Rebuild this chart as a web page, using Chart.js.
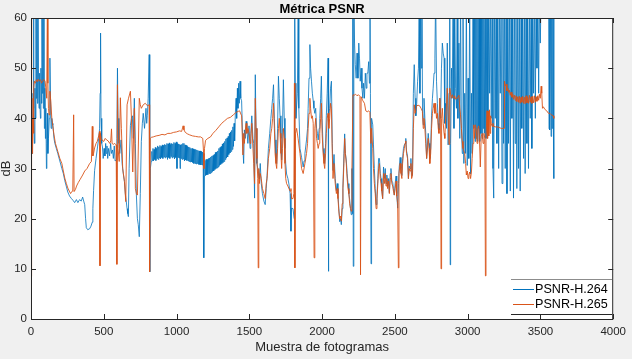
<!DOCTYPE html>
<html>
<head>
<meta charset="utf-8">
<script src="https://cdn.jsdelivr.net/npm/chart.js@4"></script>
<style>
  html, body { margin: 0; padding: 0; background: #f0f0f0; }
  canvas { display: block; }
</style>
</head>
<body>
<canvas id="psnr-chart" width="632" height="359"></canvas>
<script>
// PSNR per frame: [frame, dB]
// (65 = above the 60 dB axis limit, clipped like in the original)
const h264 = [
  [0,40],[3,33],[7,36],[10,33],[14,45],[17,65],[20,42],[24,35],[27,46],[31,40],[34,65],[37,44],[41,65],[44,43],[48,65],[51,50],
  [55,42],[58,49],[61,44],[65,40],[68,50],[72,43],[75,65],[78,45],[82,65],[85,42],[89,65],[92,38],[96,46],[99,36],[102,42],
  [106,30],[109,35],[113,41],[116,33],[120,36],[126,40],[130,52],[134,44],[138,38],[143,40],[147,39],[150,38.7],
  [158,36],[164,35],[174,34],[184,33],[198,31.5],[212,30],[222,29],[232,27.6],[242,26.5],[253,25.3],[265,24.5],[278,24],
  [290,23.6],[300,23.2],[312,23.8],[322,23.2],[334,23.8],[345,23.5],[355,24.3],[362,23.5],[369,22.8],[375,20],[380,18.2],
  [390,17.8],[403,18],[412,18.5],[421,19.3],[425,22],[430,25.6],[437,29.6],[447,32],[457,34.3],[465,36],[471,37.9],[475,45],
  [478,57],[481,40],[486,35],[491,34.3],[496,32],[502,34],[508,32.5],[513,35],[517,33],[522,34.5],[527,32],[533,34],[540,32.5],
  [547,35],[553,33],[560,33.7],[566,32],[572,34.5],[578,31.5],[585,31.7],[590,36],[594,50],[598,40],[604,35],[610,33],
  [619,35.7],[626,31],[634,29],[642,27.4],[648,25],[653,23.8],[660,22],[665,21],[669,20.4],[674,30],[683,38.6],[690,40],
  [696,40.5],[703,36],[710,44],[717,35],[724,24.7],[731,20],[737,18.8],[744,16.4],[751,25],[758,35.4],[765,39],[771,41],
  [780,38],[790,42],[795,39],[799,40.5],[805,44],[812,52.7],[815,45],[817,9.4],[820,30],
  [826,31.4],[830,33.4],[834,31.6],[838,34],[842,31.5],[846,33.8],[850,31.8],[854,34.2],[858,31.6],[862,34],[866,32],
  [870,34.5],[874,31.8],[878,34.3],[882,32.1],[886,34.6],[890,31.9],[894,34.4],[898,32.2],[902,34.7],[906,32],[910,34.6],
  [914,32.3],[918,34.8],[922,32.1],[926,34.7],[930,32.3],[934,35],[938,31.8],[942,34.9],[946,32.2],[950,35.1],[954,32],
  [958,34.8],[962,32.4],[966,35],[970,32.1],[974,34.9],[978,32.3],[982,35.2],[986,31.9],[990,35],[994,32.2],[998,35.3],
  [1003,30],[1006,35],[1010,32.2],[1014,34.9],[1018,32.1],[1022,34.8],[1024,30],[1027,34.7],[1031,32],[1035,34.8],
  [1039,31.8],[1043,35],[1047,31.9],[1051,35],[1055,31.5],[1059,34.7],[1063,31.7],[1067,34.6],[1071,31.6],[1075,34.4],
  [1079,31.5],[1083,34.3],[1087,31.4],[1091,34.2],[1095,31.3],[1099,34],[1103,31.3],[1107,34],[1111,31.2],[1115,33.9],
  [1119,31],[1123,33.8],[1127,31],[1131,33.8],[1135,30.9],[1139,33.7],[1143,31],[1147,33.6],[1151,30.8],[1155,33.5],
  [1159,30.8],[1163,33.5],[1167,30.7],[1171,33.4],[1175,30.7],[1179,33.3],[1183,30.6],[1186,33],
  [1188,12.2],[1191,28.5],
  [1195,31.6],[1199,28.6],[1203,31.8],[1207,28.7],[1211,31.8],[1215,28.8],[1219,32],[1223,29],[1227,32.1],[1231,29],
  [1235,32.3],[1239,29.2],[1243,32.5],[1247,29.4],[1251,32.6],[1255,29.5],[1259,32.8],[1263,29.8],[1267,33.2],[1271,30],
  [1275,33.3],[1279,30.1],[1283,33.5],[1287,30.3],[1291,34],[1295,30.6],[1299,34.2],[1303,30.8],[1307,34.4],[1311,31],
  [1315,34.9],[1319,31.2],[1323,35.1],[1327,31.4],[1331,35.4],[1335,31.8],[1339,35.9],[1343,32.1],[1347,36.1],[1351,32.3],
  [1355,36.4],[1359,32.8],[1363,37],[1367,33.1],[1371,37.3],[1375,33.4],[1379,37.6],[1383,33.8],[1387,38.3],[1391,34.4],
  [1395,39],[1399,35.5],[1404,41],[1409,44],[1413,40],[1418,46],[1422,42],[1427,47],[1431,43],[1436,47.4],[1441,44],
  [1447,43.5],[1456,34],[1461,31],[1466,37.7],[1472,36],[1478,39.4],[1483,38],[1490,35],[1498,38.5],[1505,34],[1510,37],
  [1517,40.5],[1525,36],[1530,35],[1536,24.1],[1541,48.7],[1546,38],[1552,31],[1558,30],[1563,29],[1569,27.9],[1575,31],
  [1582,27],[1590,25],[1600,23.5],[1609,22.8],[1616,26],[1622,28.6],[1631,34],[1640,37],[1648,40],[1654,42],[1660,44],
  [1666,46.7],[1672,40],[1677,35.7],[1683,32],[1688,31],[1694,38],[1700,48.4],[1706,44],[1711,40.5],[1717,36],[1722,31.7],
  [1728,38],[1734,47.7],[1740,40],[1745,34],[1750,31],[1756,28.9],[1765,28],[1772,26.9],[1780,25],[1786,17.5],[1790,22.1],
  [1800,22],[1808,20],[1810,21],[1813,65],[1816,47],[1820,40],[1830,45],[1836,65],[1840,42],[1848,34],[1859,32.2],
  [1870,30.3],[1876,31.5],[1882,33],[1893,35.7],[1900,38],[1904,42],[1910,48],[1916,54.7],[1921,50],[1927,47.4],[1933,45],
  [1939,43.5],[1944,42],[1950,41],[1956,42],[1962,38],[1968,37],[1973,35.7],[1980,38],[1984,40],[1990,44],[1995,48.4],
  [2000,40],[2007,34],[2013,32],[2018,31],[2024,35],[2029,40.5],[2035,45],[2041,52],[2043,9.5],[2046,40.5],[2052,42],
  [2058,46],[2064,47.4],[2070,35],[2075,29.6],[2082,32.8],[2090,28],[2098,25.6],[2104,27],[2109,25],[2115,22],[2121,19.4],
  [2127,20],[2132,18.8],[2138,22],[2143,26.2],[2150,33],[2155,36.9],[2160,33],[2166,31.7],[2172,29],[2178,27],[2184,25],
  [2189,23.9],[2195,22],[2200,20.8],[2205,30],[2208,21],[2211,65],[2214,10.5],[2218,65],[2223,55],[2228,50.7],[2234,48],
  [2240,53],[2246,48],[2252,55],[2257,52],[2262,47.4],[2268,50],[2274,46],[2280,44],[2285,47],[2291,44],[2297,49],[2303,46],
  [2308,49],[2314,49],[2320,51.3],[2325,47],[2329,65],[2332,45],[2336,11],[2340,40],[2348,38.7],[2353,34.7],[2359,30],
  [2365,26],[2371,22.8],[2377,24.7],[2383,28],[2388,32],[2394,32],[2400,29],[2405,28],[2410,26],[2416,24],[2422,30.3],
  [2428,28],[2434,30],[2439,27],[2445,28.7],[2450,26.5],[2456,28],[2462,25.2],[2468,29],[2473,30],[2479,27.5],[2485,27.2],
  [2490,26],[2496,24.7],[2502,27],[2508,28.5],[2513,25],[2519,22.1],[2525,27],[2530,30.3],[2536,32.2],[2542,30],[2548,28.6],
  [2553,32],[2559,34],[2565,34.7],[2570,35],[2575,36],[2580,33.5],[2587,32.5],[2593,28],[2598,30.5],[2604,30],[2610,32],
  [2615,28.6],[2621,28.6],[2627,45],[2633,50.7],[2639,44],[2644,40.5],[2650,43],[2656,47.4],[2662,50],[2667,65],[2672,45],
  [2677,65],[2682,50],[2686,65],[2690,41],[2695,38.7],[2700,44],[2706,40],[2712,37.1],[2718,32],[2723,34.5],[2729,37],
  [2735,35],[2740,32],[2746,34],[2752,40.5],[2758,44],[2763,46],[2769,49],[2775,52],[2780,65],[2786,47.4],[2792,43],
  [2798,39],[2803,37.7],[2809,44],[2814,40],[2820,50],[2826,55],[2832,53],[2838,52],[2843,39],[2849,43],[2855,38],
  [2860,55],[2866,34.7],[2872,45],[2877,65],[2880,10.8],[2883,35],[2889,50],[2894,44],[2900,65],[2906,38],[2911,65],
  [2917,46],[2923,42],[2928,65],[2933,40],[2940,55],[2946,36],[2951,65],[2957,38],[2963,33],[2968,65],[2974,31],[2980,45],
  [2986,33],[2991,65],[2997,30.6],[3003,48],[3008,32],[3014,65],[3020,28.9],[3026,45],[3031,33],[3037,65],[3042,38],
  [3047,65],[3051,35.4],[3055,65],[3059,36],[3063,65],[3067,35.4],[3071,65],[3075,38],[3079,65],[3083,35.4],[3087,65],
  [3091,37],[3095,65],[3099,36],[3103,65],[3107,38],[3111,65],[3115,37],[3120,65],[3126,36],[3133,65],[3139,38],[3145,65],
  [3151,45],[3156,65],[3162,40],[3168,65],[3174,30],[3179,24.1],[3185,65],[3190,40],[3196,65],[3201,35],[3207,65],
  [3213,30],[3218,65],[3224,45],[3230,65],[3236,27],[3242,65],[3247,35],[3253,65],[3258,30],[3264,65],[3270,25],[3276,65],
  [3281,35],[3287,65],[3293,25.5],[3298,65],[3304,40],[3310,65],[3315,24.1],[3321,65],[3327,35],[3332,65],[3338,26],
  [3344,65],[3350,30],[3355,65],[3361,25.5],[3367,65],[3372,38],[3378,65],[3384,32],[3390,65],[3395,29],[3401,65],
  [3407,35],[3412,65],[3418,30],[3424,65],[3430,40],[3436,65],[3441,34],[3447,65],[3453,45],[3459,65],[3465,40],
  [3470,65],[3476,50],[3482,65],[3488,45],[3493,65],[3499,55],[3505,65],[3530,65],[3556,65],[3559,38],[3562,65],
  [3565,37.7],[3569,65],[3573,36.4],[3577,65],[3581,38],[3585,65],[3589,40],[3591,65],[3593,28]
];

const h265 = [
  [0,8.5],[2,60],[4,36],[6,42],[8,33],[10,40],[12,35],[14,44],[17,37],[20,46],[23,47.4],[30,47],[37,47.7],[44,47.3],
  [50,47.8],[58,47.4],[65,47.7],[72,47],[80,47.5],[88,47.7],[96,47.5],[102,46],[108,44],[113,65],[116,47],[120,42],
  [124,40.7],[130,45.4],[136,43.4],[143,40],[150,38.4],[158,36.7],[168,35],[184,33.4],[198,32],[212,31],[222,29.5],
  [232,28.1],[243,27],[253,26.1],[263,25.5],[272,25],[280,25.4],[287,25.5],[293,40.7],[296,25.4],[305,25.8],[313,26.5],
  [325,27.2],[337,27.8],[355,28.7],[369,29.5],[385,30],[403,31],[415,31.4],[421,38.4],[425,32.5],[430,33],[437,34.1],
  [447,35],[455,35.4],[465,36.5],[471,37.4],[474,10.6],[477,37],[482,36],[490,35.6],[500,35.4],[510,36],[519,35.7],
  [530,35.5],[541,35],[548,35.5],[553,37.9],[557,35],[565,34.8],[575,35],[585,34.7],[590,10.9],[594,46.7],[598,34],
  [606,31.4],[614,44.1],[621,38],[630,30],[642,27.4],[651,23.4],[660,42.7],[670,44],[683,45.4],[690,40],[699,29.3],
  [705,37],[710,42],[717,26],[724,25],[731,24.7],[744,44],[751,42.7],[758,42],[771,42.7],[785,43],[800,42.5],[812,42.7],
  [815,9.4],[819,36],[826,36.2],[840,36.3],[860,36.5],[880,36.6],[900,36.8],[920,36.7],[940,37],[960,37],[980,37.2],
  [1000,37.3],[1020,37.5],[1035,37.4],[1045,38.5],[1051,37.7],[1060,37.2],[1075,36.9],[1090,36.7],[1110,36.5],
  [1130,36.4],[1150,36.3],[1165,36.3],[1180,36],[1186,33],[1188,30],[1192,34],[1199,35.6],[1215,36],[1233,36.3],
  [1250,37],[1270,37.6],[1290,38.3],[1310,39],[1330,39.5],[1350,40],[1370,40.2],[1390,40.7],[1410,41.2],[1425,41.4],
  [1433,41.5],[1447,40.5],[1456,32.7],[1461,37],[1466,35],[1472,37.5],[1478,39],[1483,37],[1490,38],[1498,37],[1505,35],
  [1510,36],[1517,39],[1525,34],[1530,31],[1536,27],[1541,44],[1546,38],[1552,32],[1558,28],[1561,10.2],[1565,30],
  [1569,27],[1575,29],[1582,28],[1590,26],[1600,25],[1609,24],[1616,27],[1622,28],[1631,32],[1640,34],[1648,37],
  [1654,38],[1660,40],[1666,43],[1672,38],[1677,33],[1683,31],[1688,30],[1694,34],[1700,38],[1706,40],[1711,37],
  [1717,33],[1722,30],[1728,34],[1734,38],[1740,36],[1745,31],[1750,28],[1756,27],[1765,26.5],[1772,26],[1780,25.5],
  [1786,26],[1790,24],[1800,24],[1806,25],[1810,47],[1813,10.2],[1817,37],[1825,38],[1835,36],[1848,33],[1859,30],
  [1870,29],[1882,31],[1893,33],[1900,35],[1904,38],[1910,41],[1916,44],[1921,42],[1927,40],[1933,40.5],[1939,39],
  [1945,12.2],[1950,38],[1956,40],[1962,36],[1968,35],[1973,34],[1980,35],[1984,37],[1990,40],[1995,43],[2000,37],
  [2007,33],[2013,31],[2018,30],[2024,33],[2029,37],[2035,40],[2041,41],[2046,38],[2052,40],[2058,43],[2064,42],
  [2070,33],[2075,28],[2082,31],[2090,27],[2098,25],[2104,26],[2109,24],[2115,21.5],[2121,20],[2127,20.5],[2132,19.5],
  [2138,23],[2143,26],[2150,31],[2155,36],[2160,33],[2166,31],[2172,28],[2178,26],[2184,25],[2189,23],[2195,22],
  [2200,21.5],[2205,30],[2212,44.7],[2220,44.6],[2230,44.8],[2240,44.5],[2250,44.7],[2260,44.4],[2264,8.8],[2268,44.3],
  [2280,43.5],[2291,43],[2300,41.5],[2310,41.3],[2320,41.5],[2328,41.2],[2335,35],[2340,38],[2348,34],[2353,30],
  [2359,27],[2365,25],[2371,22],[2377,24],[2383,27],[2388,30],[2394,31],[2400,28],[2405,27],[2410,25.5],[2416,24],
  [2422,29],[2428,27],[2434,29],[2439,26.5],[2445,28],[2450,26],[2456,27.5],[2462,25],[2468,28],[2473,29],[2479,27],
  [2485,26.5],[2490,25.5],[2496,24.7],[2502,26],[2508,27.5],[2513,24.5],[2519,23],[2524,10.2],[2528,29],[2536,31],
  [2542,29],[2548,28],[2553,31],[2559,33],[2565,34],[2570,35],[2575,35.5],[2580,33],[2587,32],[2593,28],[2598,30],
  [2604,29.5],[2610,31],[2615,28],[2621,28.6],[2627,38],[2633,42.7],[2639,41],[2650,42.5],[2660,42.6],[2670,42.5],
  [2680,42],[2689,41.4],[2695,38],[2700,40],[2706,38],[2712,35],[2718,32],[2723,33.5],[2729,36],[2735,34],[2740,31],
  [2746,33],[2752,38],[2758,41],[2763,42],[2769,43],[2775,41],[2780,43],[2786,40],[2792,41],[2798,38],[2803,37],
  [2809,44],[2814,41],[2817,10],[2821,40],[2826,42],[2832,39],[2838,37],[2843,36],[2849,40],[2855,43],[2860,46],
  [2866,40.7],[2872,34.8],[2877,46],[2883,44.7],[2889,44],[2894,44.7],[2900,44.2],[2906,44],[2911,44.5],[2917,43.8],
  [2923,44],[2928,44],[2940,44.6],[2946,42],[2951,40.7],[2957,38],[2963,35.4],[2968,34],[2974,33.5],[2980,33],[2986,31],
  [2991,28.7],[2997,29.5],[3003,28],[3008,28.7],[3014,29.3],[3020,28],[3026,29.3],[3031,32],[3037,35],[3042,38.7],
  [3047,36],[3053,38.7],[3059,37.7],[3065,35],[3070,38],[3076,38.5],[3081,36],[3087,30.3],[3093,36.3],[3100,37],
  [3106,35],[3112,37],[3118,36],[3122,8.6],[3126,36],[3133,41.5],[3137,36],[3141,41.4],[3145,36.5],[3150,41.7],
  [3154,37],[3158,40.5],[3162,39],[3168,38.4],[3174,39],[3179,38.4],[3190,38.3],[3201,38.3],[3215,38.2],[3230,38],
  [3243,38],[3251,38],[3253,47.4],[3258,46.5],[3264,46.8],[3270,45.5],[3276,46],[3281,45.2],[3287,45.6],[3293,44.6],
  [3298,45.2],[3304,44.2],[3310,44.8],[3315,43.8],[3321,44.6],[3327,43.6],[3332,44.5],[3338,43.3],[3344,44.3],
  [3350,43.2],[3355,44.4],[3361,43],[3367,44.2],[3372,43.2],[3378,44.4],[3384,43],[3390,44.2],[3395,42.9],[3401,44.5],
  [3407,43.1],[3412,44.2],[3418,43],[3424,44.6],[3430,43.2],[3436,44.3],[3441,43],[3447,44.4],[3453,43.1],[3459,44.5],
  [3465,43.2],[3470,44.3],[3476,43.4],[3482,44.5],[3488,43.6],[3493,44.8],[3499,44],[3505,46.4],[3509,45],[3514,42],
  [3520,42.3],[3530,41.8],[3543,41.5],[3555,41],[3565,41],[3575,40.7],[3588,40.5],[3592,40]
];

const seriesNames = ['PSNR-H.264', 'PSNR-H.265'];
const xTicks = [0, 500, 1000, 1500, 2000, 2500, 3000, 3500, 4000];
const yTicks = [0, 10, 20, 30, 40, 50, 60];

const FONT = "'Liberation Sans', Arial, sans-serif";
const BLUE = '#0072bd';
const ORANGE = '#d95319';
const AXIS = '#262626';

// white plot background
const plotBg = {
  id: 'plotBg',
  beforeDatasetsDraw(chart) {
    const { ctx, chartArea: a } = chart;
    ctx.save();
    ctx.fillStyle = '#fff';
    ctx.fillRect(a.left, a.top, a.right - a.left, a.bottom - a.top);
    ctx.restore();
  }
};

// MATLAB-ish frame: box, inward ticks, title, axis labels, legend
const matlabAxes = {
  id: 'matlabAxes',
  afterDatasetsDraw(chart) {
    const { ctx, chartArea: a, scales } = chart;
    ctx.save();
    ctx.strokeStyle = AXIS;
    ctx.lineWidth = 1;
    ctx.beginPath();
    ctx.rect(a.left + 0.5, a.top + 0.5, a.right - a.left - 1, a.bottom - a.top);
    xTicks.forEach(t => {
      const x = Math.round(scales.x.getPixelForValue(t)) + 0.5;
      ctx.moveTo(x, a.bottom); ctx.lineTo(x, a.bottom - 5);
      ctx.moveTo(x, a.top); ctx.lineTo(x, a.top + 5);
    });
    yTicks.forEach(t => {
      const y = Math.round(scales.y.getPixelForValue(t)) + 0.5;
      ctx.moveTo(a.left, y); ctx.lineTo(a.left + 5, y);
      ctx.moveTo(a.right, y); ctx.lineTo(a.right - 5, y);
    });
    ctx.stroke();

    // title + axis labels
    ctx.fillStyle = '#000';
    ctx.textAlign = 'center';
    ctx.textBaseline = 'middle';
    ctx.font = 'bold 13px ' + FONT;
    ctx.fillText('Métrica PSNR', (a.left + a.right) / 2, 9);
    ctx.fillStyle = AXIS;
    ctx.font = '13px ' + FONT;
    ctx.fillText('Muestra de fotogramas', (a.left + a.right) / 2, 347);
    ctx.save();
    ctx.translate(6, (a.top + a.bottom) / 2);
    ctx.rotate(-Math.PI / 2);
    ctx.fillText('dB', 0, 0);
    ctx.restore();

    // legend
    const lx = 511, ly = 279, lw = 101, lh = 35;
    ctx.fillStyle = '#fff';
    ctx.fillRect(lx, ly, lw, lh);
    ctx.beginPath();
    ctx.strokeStyle = '#8c8c8c';
    ctx.moveTo(lx, ly + 0.5); ctx.lineTo(lx + lw, ly + 0.5);
    ctx.stroke();
    ctx.beginPath();
    ctx.strokeStyle = AXIS;
    ctx.moveTo(lx, ly + lh + 0.5); ctx.lineTo(lx + lw, ly + lh + 0.5);
    ctx.stroke();
    ctx.font = '12.6px ' + FONT;
    ctx.textAlign = 'left';
    ctx.fillStyle = '#000';
    [BLUE, ORANGE].forEach((c, i) => {
      const y = 289.5 + i * 15;
      ctx.beginPath();
      ctx.strokeStyle = c;
      ctx.moveTo(513, y); ctx.lineTo(534, y);
      ctx.stroke();
      ctx.fillText(seriesNames[i], 535, y + 0.5);
    });
    ctx.restore();
  }
};

const toXY = arr => arr.map(([x, y]) => ({ x, y }));

new Chart(document.getElementById('psnr-chart'), {
  type: 'line',
  data: {
    datasets: [
      {
        label: seriesNames[0],
        data: toXY(h264),
        borderColor: BLUE,
        borderWidth: 0.8,
        pointRadius: 0,
        tension: 0,
        order: 1,
      },
      {
        label: seriesNames[1],
        data: toXY(h265),
        borderColor: ORANGE,
        borderWidth: 0.9,
        pointRadius: 0,
        tension: 0,
        order: 0,
      },
    ],
  },
  options: {
    responsive: false,
    animation: false,
    layout: { padding: { left: 0, top: 18, right: 15, bottom: 0 } },
    plugins: {
      legend: { display: false },
      tooltip: { enabled: false },
    },
    scales: {
      x: {
        type: 'linear',
        min: 0,
        max: 4000,
        afterFit: s => { s.height = 40; },
        afterBuildTicks: s => { s.ticks = xTicks.map(v => ({ value: v })); },
        grid: { display: false, drawTicks: false },
        border: { display: false },
        ticks: {
          color: AXIS,
          font: { family: FONT, size: 11.5 },
          padding: 6,
          maxRotation: 0,
          callback: v => String(v),
        },
      },
      y: {
        min: 0,
        max: 60,
        afterFit: s => { s.width = 31; },
        afterBuildTicks: s => { s.ticks = yTicks.map(v => ({ value: v })); },
        grid: { display: false, drawTicks: false },
        border: { display: false },
        ticks: {
          color: AXIS,
          font: { family: FONT, size: 11.5 },
          padding: 4,
          callback: v => String(v),
        },
      },
    },
  },
  plugins: [plotBg, matlabAxes],
});
</script>
</body>
</html>
